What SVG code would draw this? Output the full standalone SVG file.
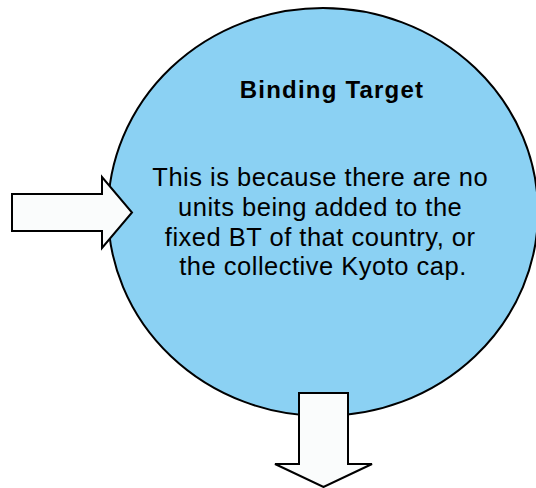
<svg xmlns="http://www.w3.org/2000/svg" width="536" height="488" viewBox="0 0 536 488">
<style>
.arrow{fill:#FAFCFC;stroke:#000;stroke-width:2;stroke-linejoin:miter}
.title{font-family:"Liberation Sans",Arial,sans-serif;font-weight:bold;font-size:24px;letter-spacing:1.2px;fill:#000}
.body{font-family:"Liberation Sans",Arial,sans-serif;font-size:25.5px;letter-spacing:0.5px;fill:#000}
</style>
<rect width="536" height="488" fill="#FFFFFF"/>
<g id="binding-target">
<ellipse cx="323" cy="212" rx="215" ry="204" fill="#8BD1F3" stroke="#000" stroke-width="2"/>
<text class="title" x="332" y="98" text-anchor="middle">Binding Target</text>
<text class="body" text-anchor="middle">
<tspan x="324" y="186">This is because there are no</tspan>
<tspan x="324" y="216">units being added to the</tspan>
<tspan x="324" y="246">fixed BT of that country, or</tspan>
<tspan x="323" y="275">the collective Kyoto cap.</tspan>
</text>
</g>
<g id="connectors">
<polygon id="arrow-in" class="arrow" points="12,194 102,194 102,177 132,212.5 102,248 102,231 12,231"/>
<polygon id="arrow-out" class="arrow" points="299,393 348,393 348,464 372,464 323.5,487 275,464 299,464"/>
</g>
</svg>
